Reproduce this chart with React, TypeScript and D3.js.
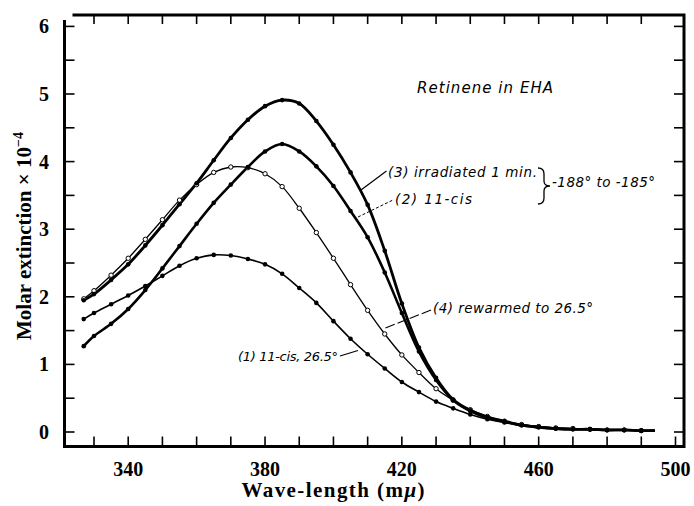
import React from "react";
import * as d3 from "d3";

// wavelength grid (mμ)
const wavelengths = [327, 330, 335, 340, 345, 350, 355, 360, 365, 370, 375, 380, 385, 390, 395, 400, 405, 410, 415, 420, 425, 430, 435, 440, 445, 450, 455, 460, 465, 470, 475, 480, 485, 490, 494];

// (1) 11-cis, 26.5°
const cis265 = [1.67, 1.76, 1.89, 2.02, 2.16, 2.31, 2.46, 2.57, 2.62, 2.61, 2.56, 2.48, 2.34, 2.13, 1.91, 1.64, 1.38, 1.15, 0.94, 0.74, 0.59, 0.45, 0.35, 0.26, 0.19, 0.14, 0.11, 0.08, 0.06, 0.05, 0.04, 0.03, 0.03, 0.02, 0.02];
// (2) 11-cis, -188° to -185°
const cisCold = [1.27, 1.42, 1.60, 1.82, 2.10, 2.42, 2.75, 3.08, 3.39, 3.66, 3.92, 4.15, 4.26, 4.15, 3.93, 3.64, 3.27, 2.88, 2.36, 1.76, 1.19, 0.77, 0.47, 0.31, 0.21, 0.15, 0.10, 0.07, 0.05, 0.04, 0.04, 0.03, 0.03, 0.02, 0.02];
// (3) irradiated 1 min
const irradiated = [1.95, 2.04, 2.25, 2.48, 2.76, 3.06, 3.37, 3.68, 4.02, 4.35, 4.62, 4.82, 4.91, 4.86, 4.60, 4.25, 3.84, 3.36, 2.68, 1.90, 1.25, 0.80, 0.48, 0.32, 0.22, 0.16, 0.10, 0.07, 0.05, 0.04, 0.04, 0.03, 0.03, 0.02, 0.02];
// (4) rewarmed to 26.5°
const rewarmed = [1.97, 2.09, 2.32, 2.57, 2.85, 3.14, 3.43, 3.66, 3.84, 3.92, 3.91, 3.82, 3.63, 3.31, 2.95, 2.57, 2.18, 1.80, 1.45, 1.14, 0.88, 0.64, 0.47, 0.33, 0.23, 0.16, 0.11, 0.08, 0.06, 0.05, 0.04, 0.03, 0.03, 0.02, 0.02];

const xTickValues = [330, 340, 350, 360, 370, 380, 390, 400, 410, 420, 430, 440, 450, 460, 470, 480, 490, 500];
const xTickLabels = [340, 380, 420, 460, 500];
const yTickValues = [0, 0.5, 1, 1.5, 2, 2.5, 3, 3.5, 4, 4.5, 5, 5.5, 6];
const yTickLabels = [0, 1, 2, 3, 4, 5, 6];

const W = 694;
const H = 506;
const LEFT = 64.5;
const RIGHT = 684;
const TOP = 15;
const BOTTOM = 445.5;

const x = d3.scaleLinear().domain([330, 500]).range([94, 675.5]);
const y = d3.scaleLinear().domain([0, 6]).range([432, 26.4]);

const lineGen = d3
  .line<number>()
  .x((_, i) => x(wavelengths[i]))
  .y((d) => y(d))
  .curve(d3.curveCatmullRom.alpha(0.5));

const series = [
  { key: "c1", values: cis265, width: 1.6, open: false },
  { key: "c4", values: rewarmed, width: 1.3, open: true },
  { key: "c2", values: cisCold, width: 2.6, open: false },
  { key: "c3", values: irradiated, width: 2.8, open: false },
];

const serif = "'Liberation Serif', 'Times New Roman', serif";
const hand = "'DejaVu Sans', sans-serif";

export default function App() {
  return (
    <div style={{ position: "fixed", left: 0, top: 0 }}>
      <svg width={W} height={H} xmlns="http://www.w3.org/2000/svg">
        <rect x={0} y={0} width={W} height={H} fill="#fff" />
        {/* frame */}
        <path
          d={`M${LEFT},${TOP + 5} L${LEFT},${BOTTOM + 1} L${RIGHT},${BOTTOM + 1} L${RIGHT},${TOP} L${LEFT + 8},${TOP}`}
          fill="none"
          stroke="#000"
          strokeWidth={3}
        />
        {/* x ticks bottom */}
        {xTickValues.map((v) => (
          <line key={"xb" + v} x1={x(v)} x2={x(v)} y1={BOTTOM} y2={BOTTOM - 9} stroke="#000" strokeWidth={1.6} />
        ))}
        {/* x ticks top */}
        {xTickValues.filter((v) => v < 500).map((v) => (
          <line key={"xt" + v} x1={x(v)} x2={x(v)} y1={TOP} y2={TOP + 9} stroke="#000" strokeWidth={1.6} />
        ))}
        {/* y ticks */}
        {yTickValues.map((v) => (
          <g key={"y" + v}>
            <line x1={LEFT} x2={LEFT + 10} y1={y(v)} y2={y(v)} stroke="#000" strokeWidth={1.6} />
            <line x1={RIGHT} x2={RIGHT - 10} y1={y(v)} y2={y(v)} stroke="#000" strokeWidth={1.6} />
          </g>
        ))}
        {/* tick labels */}
        {xTickLabels.map((v) => (
          <text key={"xl" + v} x={x(v)} y={476} textAnchor="middle" fontFamily={serif} fontWeight="bold" fontSize={20}>
            {v}
          </text>
        ))}
        {yTickLabels.map((v) => (
          <text key={"yl" + v} x={49} y={y(v)} dy="0.35em" textAnchor="end" fontFamily={serif} fontWeight="bold" fontSize={20}>
            {v}
          </text>
        ))}
        {/* axis titles */}
        <text x={333} y={497} textAnchor="middle" fontFamily={serif} fontWeight="bold" fontSize={21} textLength={183} lengthAdjust="spacing">
          Wave-length (m<tspan fontStyle="italic">μ</tspan>)
        </text>
        <text
          transform="translate(31, 236) rotate(-90)"
          textAnchor="middle"
          fontFamily={serif}
          fontWeight="bold"
          fontSize={21}
        >
          Molar extinction × 10<tspan dy={-8} fontSize={14}>−4</tspan>
        </text>

        {/* curves */}
        {series.map((s) => (
          <path key={s.key} d={lineGen(s.values) || ""} fill="none" stroke="#000" strokeWidth={s.width} />
        ))}
        {series.map((s) =>
          s.values.slice(0, -1).map((v, i) =>
            s.open ? (
              <circle key={s.key + i} cx={x(wavelengths[i])} cy={y(v)} r={2.2} fill="#fff" stroke="#000" strokeWidth={1} />
            ) : (
              <circle key={s.key + i} cx={x(wavelengths[i])} cy={y(v)} r={2.3} fill="#000" />
            )
          )
        )}

        {/* annotations */}
        <g fontFamily={hand} fontStyle="italic" fill="#000">
          <text x={417} y={93} fontSize={15} textLength={136} lengthAdjust="spacing">Retinene in EHA</text>
          <text x={388} y={177} fontSize={13.5} textLength={149} lengthAdjust="spacing">(3) irradiated 1 min.</text>
          <text x={395} y={204} fontSize={13.5} textLength={77} lengthAdjust="spacing">(2)  11-cis</text>
          <text x={552} y={187} fontSize={13.5} textLength={103} lengthAdjust="spacing">-188° to -185°</text>
          <text x={433} y={313} fontSize={13.5} textLength={160} lengthAdjust="spacing">(4) rewarmed to 26.5°</text>
          <text x={238} y={361} fontSize={13} textLength={100} lengthAdjust="spacing">(1) 11-cis, 26.5°</text>
        </g>
        <g stroke="#000" fill="none">
          <line x1={361} y1={190} x2={386.5} y2={171} strokeWidth={1.2} />
          <line x1={358} y1={217} x2={393} y2={200} strokeWidth={1} strokeDasharray="3,2" />
          <line x1={431} y1={310} x2={383} y2={329} strokeWidth={1.1} strokeDasharray="10,3" />
          <line x1={340} y1={356} x2={358} y2={350.5} strokeWidth={1.2} />
          <path d="M538,168 Q544,168 544,174 L544,181 Q544,186 550,186 Q544,186 544,191 L544,198 Q544,204 538,204" strokeWidth={1.3} />
        </g>
      </svg>
    </div>
  );
}
